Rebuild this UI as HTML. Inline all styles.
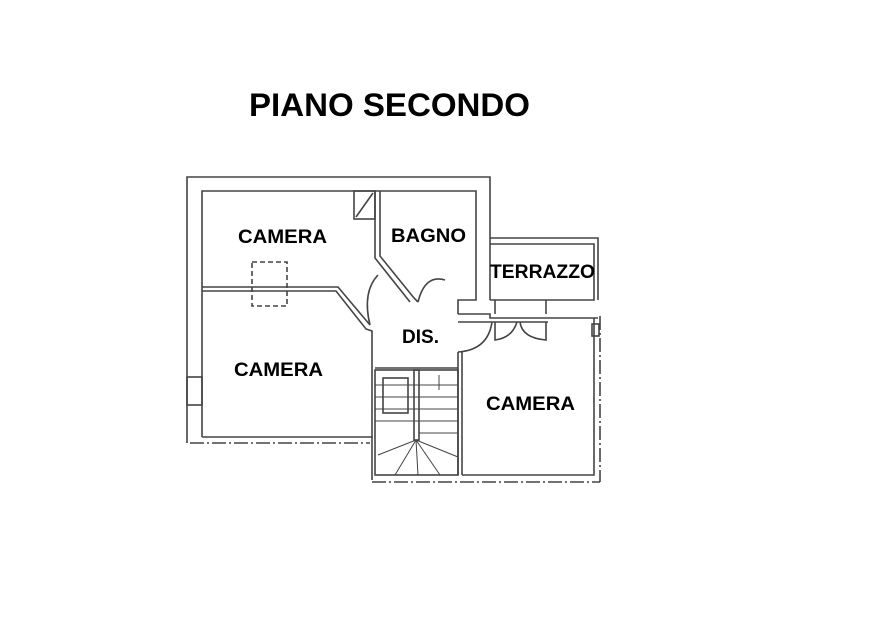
<!DOCTYPE html>
<html><head><style>
body{margin:0;background:#fff;width:878px;height:636px;overflow:hidden}
svg{position:absolute;left:0;top:0}
</style></head><body>
<svg width="878" height="636" viewBox="0 0 878 636" font-family="Liberation Sans, sans-serif">
<g fill="none" stroke="#444" stroke-width="1.6">
<polyline points="187,443 187,177 490,177 490,238"/>
<polyline points="202,437 202,191 476,191 476,300 458,300 458,314"/>
<line x1="490" y1="238" x2="490" y2="300"/>
<rect x="354" y="191" width="21" height="28"/>
<line x1="356" y1="217" x2="373" y2="193"/>
<polyline points="375,191 375,258 410,302"/>
<polyline points="380,191 380,256 414,298 418,302"/>
<polyline points="202,287 338,287 370,325"/>
<polyline points="202,291 336,291 366,329 372,331 372,437 202,437"/>
<rect x="252" y="262" width="35" height="44" stroke-dasharray="5,3"/>
<path d="M370,325 Q362,292 378,275"/>
<path d="M418,302 Q425,274 445,280"/>
<path d="M458,352 Q488,350 492,322"/>
<polyline points="458,314 490,314 490,318 598,318"/>
<polyline points="458,322 548,322"/>
<line x1="375" y1="368" x2="458" y2="368"/>
<line x1="458" y1="352" x2="458" y2="475"/>
<line x1="462" y1="352" x2="462" y2="475"/>
<rect x="375" y="370" width="83" height="105"/>
<rect x="414" y="370" width="5" height="70"/>
<rect x="383" y="378" width="25" height="35"/>
<g stroke-width="1">
<line x1="375" y1="385" x2="458" y2="385"/>
<line x1="375" y1="397" x2="458" y2="397"/>
<line x1="375" y1="409" x2="458" y2="409"/>
<line x1="375" y1="421" x2="458" y2="421"/>
<line x1="419" y1="433" x2="458" y2="433"/>
<line x1="416" y1="440" x2="378" y2="455"/>
<line x1="416" y1="440" x2="395" y2="475"/>
<line x1="416" y1="440" x2="418" y2="475"/>
<line x1="416" y1="440" x2="440" y2="475"/>
<line x1="416" y1="440" x2="458" y2="457"/>
<line x1="439" y1="390" x2="439" y2="375"/>
</g>
<line x1="372" y1="437" x2="372" y2="480"/>
<line x1="372" y1="482" x2="600" y2="482" stroke-dasharray="14,3,2,3"/>
<line x1="190" y1="443" x2="370" y2="443" stroke-dasharray="14,3,2,3"/>
<rect x="187" y="377" width="15" height="28"/>
<polyline points="490,238 598,238 598,300"/>
<polyline points="490,244 594,244 594,300 490,300"/>
<path d="M495,322 L495,340 Q512,338 517,322"/>
<path d="M546,322 L546,340 Q522,338 520,322"/>
<line x1="495" y1="300" x2="495" y2="314"/>
<line x1="546" y1="300" x2="546" y2="314"/>
<polyline points="462,475 594,475 594,318"/>
<line x1="600" y1="316" x2="600" y2="482" stroke-dasharray="14,3,2,3"/>
<rect x="592" y="324" width="7" height="12"/>
</g>
<g font-weight="bold" fill="#000" font-size="19" lengthAdjust="spacingAndGlyphs">
<text x="249" y="116" font-size="32" textLength="281" lengthAdjust="spacingAndGlyphs">PIANO SECONDO</text>
<text x="238" y="243" textLength="89" lengthAdjust="spacingAndGlyphs">CAMERA</text>
<text x="391" y="242" textLength="75" lengthAdjust="spacingAndGlyphs">BAGNO</text>
<text x="490" y="278" textLength="105" lengthAdjust="spacingAndGlyphs">TERRAZZO</text>
<text x="402" y="343" textLength="37" lengthAdjust="spacingAndGlyphs">DIS.</text>
<text x="234" y="376" textLength="89" lengthAdjust="spacingAndGlyphs">CAMERA</text>
<text x="486" y="410" textLength="89" lengthAdjust="spacingAndGlyphs">CAMERA</text>
</g>
</svg>
</body></html>
